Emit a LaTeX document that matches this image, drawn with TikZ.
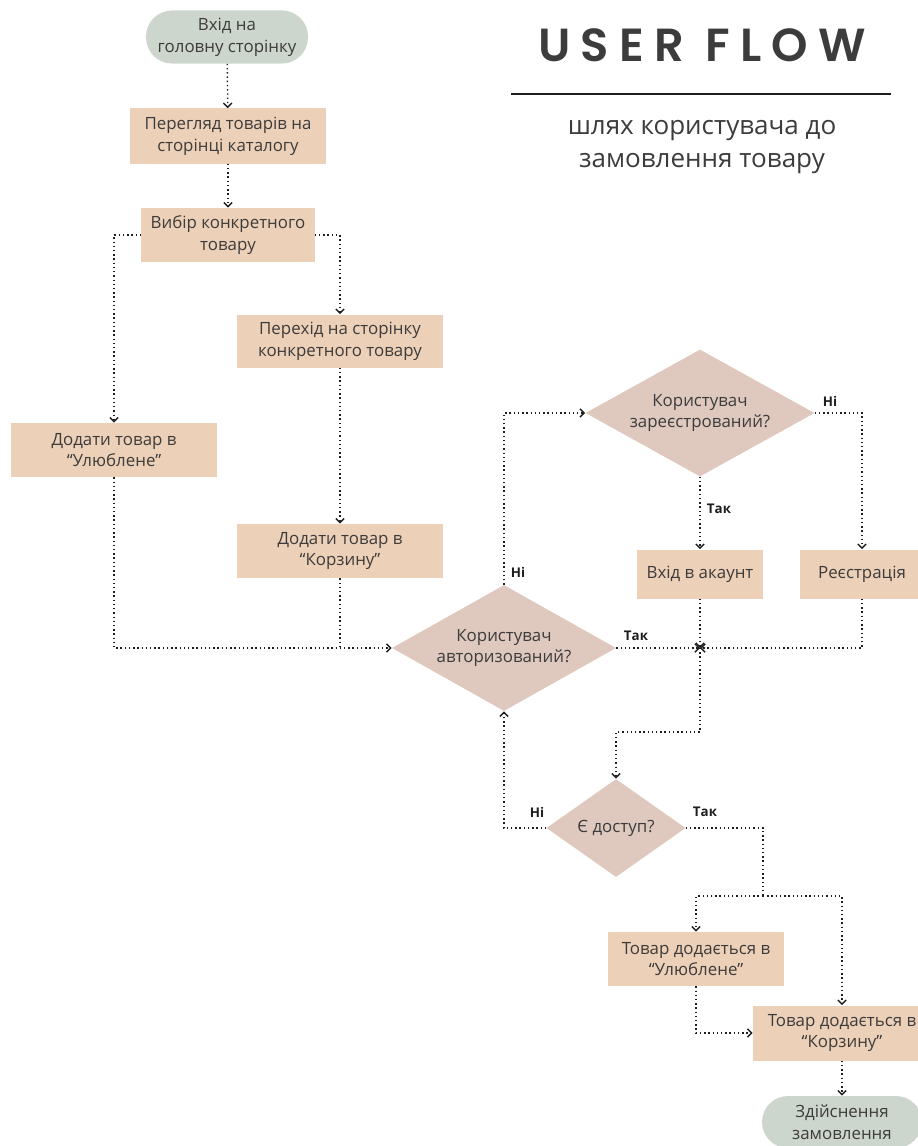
\documentclass[tikz,border=0pt]{standalone}
\usepackage{fontspec}
\setmainfont{Open Sans}
\newfontfamily\titlefont[LetterSpace=22]{Poppins SemiBold}
\usetikzlibrary{shapes.geometric,arrows.meta}

\definecolor{boxfill}{HTML}{EDD0B8}
\definecolor{decfill}{HTML}{DFC9BE}
\definecolor{termfill}{HTML}{CDD6CC}
\definecolor{txtgray}{HTML}{3C3C3C}
\definecolor{wire}{HTML}{1E1E1E}

\tikzset{
  stepbox/.style={rectangle, fill=boxfill, text=txtgray, align=center,
    inner sep=0pt, font=\fontsize{12}{15.5}\selectfont},
  decision/.style={diamond, fill=decfill, inner sep=0pt,
    label={[text=txtgray, align=center, font=\fontsize{12}{15.5}\selectfont]center:#1}},
  terminal/.style={rectangle, rounded corners=0.65cm, fill=termfill, text=txtgray,
    align=center, inner sep=0pt, font=\fontsize{12}{15.5}\selectfont},
  answer/.style={text=wire, font=\bfseries\fontsize{9.5}{11}\selectfont},
  flow/.style={draw=wire, dotted, line width=1pt,
    -{Straight Barb[length=3pt,width=6pt,line width=1pt]}},
  plain/.style={draw=wire, dotted, line width=1pt}
}

\begin{document}
\begin{tikzpicture}[x=0.025cm, y=-0.025cm]
\useasboundingbox (0,0) rectangle (918,1146);

% title
\node[font=\titlefont\fontsize{33}{40}\selectfont, text=txtgray] (title) at (702,45) {USER FLOW};
\draw[line width=0.8pt, draw=wire] (511,94) -- (891,94);
\node[font=\fontsize{18.5}{23.5}\selectfont, text=txtgray, align=center] (subtitle) at (702,147)
  {шлях користувача до\\замовлення товару};

% left column
\node[terminal, minimum width=4.05cm, minimum height=1.325cm] (start) at (227,37) {Вхід на\\головну сторінку};
\node[stepbox, minimum width=4.875cm, minimum height=1.375cm] (catalog) at (228,136) {Перегляд товарів на\\сторінці каталогу};
\node[stepbox, minimum width=4.325cm, minimum height=1.35cm] (choose) at (228,235) {Вибір конкретного\\товару};
\node[stepbox, minimum width=5.15cm, minimum height=1.325cm] (page) at (340,341) {Перехід на сторінку\\конкретного товару};
\node[stepbox, minimum width=5.15cm, minimum height=1.35cm] (addfav) at (114,450) {Додати товар в\\“Улюблене”};
\node[stepbox, minimum width=5.15cm, minimum height=1.35cm] (addcart) at (340,551) {Додати товар в\\“Корзину”};

% decisions
\node[decision={Користувач\\авторизований?}, minimum width=5.6cm, minimum height=3.15cm] (authq) at (504,648) {};
\node[decision={Користувач\\зареєстрований?}, minimum width=5.725cm, minimum height=3.175cm] (regq) at (700,413) {};
\node[stepbox, minimum width=3.15cm, minimum height=1.225cm] (login) at (700,574) {Вхід в акаунт};
\node[stepbox, minimum width=3.1cm, minimum height=1.225cm] (signup) at (862,574) {Реєстрація};
\node[decision={Є доступ?}, minimum width=3.475cm, minimum height=2.45cm] (access) at (616,828) {};

% result
\node[stepbox, minimum width=4.4cm, minimum height=1.35cm] (favdone) at (696,959) {Товар додається в\\“Улюблене”};
\node[stepbox, minimum width=4.45cm, minimum height=1.375cm] (cartdone) at (842,1033) {Товар додається в\\“Корзину”};
\node[terminal, minimum width=4cm, minimum height=1.3cm] (order) at (842,1122) {Здійснення\\замовлення};

% helper points
\coordinate (join) at (700,648);
\coordinate (turn) at (700,732);
\coordinate (split) at (763,896);

% connectors
\draw[flow] (start) -- (catalog);
\draw[flow] (catalog) -- (choose);
\draw[flow] (choose.west) -| (addfav.north);
\draw[flow] (choose.east) -| (page.north);
\draw[flow] (page) -- (addcart);
\draw[flow] (addfav.south) |- (authq.west);
\draw[plain] (addcart.south) -- (addcart.south |- authq.west);
\draw[flow] (authq.north) |- (regq.west);
\draw[flow] (regq.east) -| (signup.north);
\draw[flow] (regq.south) -- (login.north);
\draw[flow] (authq.east) -- (join);
\draw[flow] (login.south) -- (join);
\draw[flow] (signup.south) |- (join);
\draw[flow] (join) -- (turn) -| (access.north);
\draw[flow] (access.west) -| (authq.south);
\draw[plain] (access.east) -| (split);
\draw[flow] (split) -| (favdone.north);
\draw[flow] (split) -| (cartdone.north);
\draw[flow] (favdone.south) |- (cartdone.west);
\draw[flow] (cartdone) -- (order);

% answers
\node[answer] (noauth) at (518,572) {Ні};
\node[answer] (noreg) at (830,401) {Ні};
\node[answer] (yesreg) at (719,509) {Так};
\node[answer] (yesauth) at (636,636) {Так};
\node[answer] (noaccess) at (537,812) {Ні};
\node[answer] (yesaccess) at (705,812) {Так};
\end{tikzpicture}
\end{document}
